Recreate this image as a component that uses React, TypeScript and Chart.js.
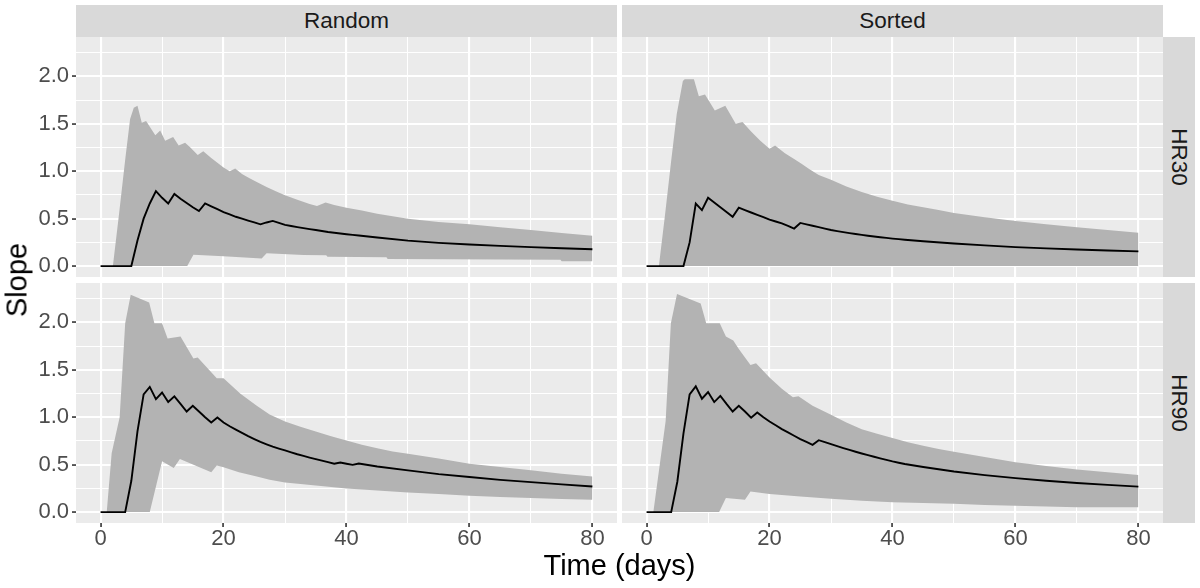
import React, { useEffect, useRef } from "react";
import { Chart, registerables } from "chart.js";

Chart.register(...registerables);

const FONT = "'Liberation Sans', Arial, Helvetica, sans-serif";

// ---- shared axis definitions ----
const COLUMNS = ["Random", "Sorted"];
const ROWS = ["HR30", "HR90"];
const X_TICKS = [0, 10, 20, 30, 40, 50, 60, 70, 80];
const X_MAJOR = [0, 20, 40, 60, 80];
const X_LABELS = ["0", "20", "40", "60", "80"];
const Y_TICKS = [0, 0.25, 0.5, 0.75, 1, 1.25, 1.5, 1.75, 2, 2.25];
const Y_MAJOR = [0, 0.5, 1, 1.5, 2];
const Y_LABELS = ["0.0", "0.5", "1.0", "1.5", "2.0"];

// ---- mean line: day grid ----
const LINE_DAYS = [
  0, 1, 2, 3, 4, 5, 6, 7, 8, 9, 10, 11, 12, 13, 14, 15, 16, 17, 18, 19, 20,
  21, 22, 23, 24, 25, 26, 27, 28, 29, 30, 31, 32, 33, 34, 35, 36, 37, 38, 39,
  40, 41, 42, 45, 50, 55, 60, 65, 70, 75, 80,
];

// ---- Random / HR30 ----
const RANDOM_HR30_MEAN = [
  0, 0, 0, 0, 0, 0, 0.27, 0.5, 0.66, 0.79, 0.72, 0.66, 0.76, 0.71, 0.665, 0.62,
  0.58, 0.66, 0.63, 0.6, 0.57, 0.545, 0.52, 0.5, 0.48, 0.46, 0.44, 0.46, 0.476,
  0.455, 0.435, 0.423, 0.411, 0.4, 0.39, 0.38, 0.37, 0.36, 0.352, 0.344, 0.336,
  0.329, 0.322, 0.302, 0.268, 0.245, 0.228, 0.213, 0.2, 0.188, 0.178,
];
const RANDOM_HR30_UPPER_DAYS = [
  0, 2, 3, 4, 4.8, 5.4, 6, 6.7, 7.4, 8.9, 9.7, 10.5, 11.8, 12.7, 13.75, 14.6,
  15.8, 16.7, 18, 19, 20, 21, 21.9, 23, 24, 25.4, 27, 28.5, 30, 32, 34, 35.2,
  36.6, 38, 40, 42.5, 45, 47.5, 50, 55, 60, 65, 70, 75, 80,
];
const RANDOM_HR30_UPPER = [
  0, 0, 0.55, 1.12, 1.55, 1.67, 1.69, 1.51, 1.53, 1.38, 1.43, 1.32, 1.36, 1.27,
  1.3, 1.25, 1.17, 1.21, 1.14, 1.09, 1.04, 1.0, 1.03, 0.97, 0.935, 0.886,
  0.835, 0.79, 0.746, 0.7, 0.655, 0.634, 0.67, 0.645, 0.616, 0.585, 0.553,
  0.525, 0.5, 0.465, 0.44, 0.41, 0.38, 0.35, 0.32,
];
const RANDOM_HR30_LOWER_DAYS = [
  0, 14.1, 15.1, 20, 26.2, 27, 33, 36.7, 36.9, 46.5, 46.7, 74.8, 75, 80,
];
const RANDOM_HR30_LOWER = [
  0, 0, 0.12, 0.105, 0.08, 0.135, 0.118, 0.115, 0.098, 0.092, 0.074, 0.068,
  0.05, 0.05,
];

// ---- Sorted / HR30 ----
const SORTED_HR30_MEAN = [
  0, 0, 0, 0, 0, 0, 0, 0.25, 0.66, 0.59, 0.72, 0.67, 0.62, 0.57, 0.52, 0.616,
  0.59, 0.565, 0.54, 0.515, 0.49, 0.47, 0.45, 0.425, 0.396, 0.455, 0.44, 0.425,
  0.41, 0.395, 0.38, 0.369, 0.358, 0.348, 0.338, 0.329, 0.32, 0.312, 0.304,
  0.297, 0.29, 0.284, 0.278, 0.262, 0.238, 0.218, 0.2, 0.187, 0.175, 0.164,
  0.155,
];
const SORTED_HR30_UPPER_DAYS = [
  0, 2, 3, 4, 4.9, 5.9, 6.2, 7.7, 8.5, 9.5, 11.1, 12.8, 14.5, 15.6, 17, 18.5,
  20, 20.9, 22.5, 24, 25.2, 26.5, 28, 30, 32.5, 35, 37.5, 40, 42.5, 45, 47.5,
  50, 55, 60, 65, 70, 75, 80,
];
const SORTED_HR30_UPPER = [
  0, 0, 0.54, 1.11, 1.6, 1.95, 1.97, 1.97, 1.79, 1.81, 1.64, 1.69, 1.5, 1.52,
  1.42, 1.32, 1.236, 1.27, 1.19, 1.13, 1.08, 1.02, 0.96, 0.91, 0.84, 0.78,
  0.73, 0.69, 0.65, 0.62, 0.59, 0.56, 0.515, 0.475, 0.44, 0.41, 0.38, 0.352,
];
const SORTED_HR30_LOWER_DAYS = [0, 80];
const SORTED_HR30_LOWER = [0, 0];

// ---- Random / HR90 ----
const RANDOM_HR90_MEAN = [
  0, 0, 0, 0, 0, 0.33, 0.85, 1.24, 1.32, 1.19, 1.26, 1.16, 1.22, 1.14, 1.06,
  1.12, 1.06, 1.0, 0.945, 0.997, 0.944, 0.905, 0.87, 0.835, 0.8, 0.77, 0.74,
  0.715, 0.69, 0.67, 0.65, 0.63, 0.61, 0.592, 0.575, 0.558, 0.542, 0.526, 0.51,
  0.523, 0.51, 0.498, 0.512, 0.48, 0.44, 0.4, 0.37, 0.34, 0.316, 0.292, 0.27,
];
const RANDOM_HR90_UPPER_DAYS = [
  0, 1, 1.8, 3.1, 4, 4.9, 7.9, 8.75, 10, 10.9, 13, 15.1, 15.8, 18.9, 20, 22.7,
  25.4, 27.5, 30, 32.5, 35, 37.5, 40, 42.5, 45, 47.5, 50, 55, 60, 65, 70, 75,
  80,
];
const RANDOM_HR90_UPPER = [
  0, 0, 0.62, 1.0, 1.99, 2.29, 2.21, 1.99, 1.99, 1.83, 1.85, 1.62, 1.63, 1.41,
  1.41, 1.25, 1.12, 1.03, 0.954, 0.9, 0.85, 0.8, 0.754, 0.71, 0.674, 0.64,
  0.614, 0.565, 0.51, 0.475, 0.44, 0.405, 0.375,
];
const RANDOM_HR90_LOWER_DAYS = [
  0, 8, 10, 11.9, 12.9, 18, 18.9, 20, 22.5, 25.4, 27.5, 30, 35, 40, 45, 50, 55,
  60, 65, 70, 75, 80,
];
const RANDOM_HR90_LOWER = [
  0, 0, 0.535, 0.465, 0.56, 0.42, 0.49, 0.474, 0.42, 0.375, 0.34, 0.312, 0.28,
  0.25, 0.227, 0.207, 0.19, 0.172, 0.16, 0.148, 0.138, 0.13,
];

// ---- Sorted / HR90 ----
const SORTED_HR90_MEAN = [
  0, 0, 0, 0, 0, 0.32, 0.83, 1.24, 1.325, 1.195, 1.265, 1.16, 1.225, 1.14,
  1.06, 1.12, 1.06, 0.996, 1.05, 1.0, 0.955, 0.915, 0.875, 0.84, 0.805, 0.77,
  0.74, 0.709, 0.758, 0.737, 0.716, 0.695, 0.675, 0.655, 0.636, 0.618, 0.6,
  0.583, 0.566, 0.55, 0.534, 0.52, 0.507, 0.475, 0.428, 0.39, 0.358, 0.33,
  0.307, 0.287, 0.268,
];
const SORTED_HR90_UPPER_DAYS = [
  0, 1.1, 3.1, 3.95, 4.95, 8.8, 9.7, 11.9, 12.9, 14.1, 15, 16.9, 17.8, 20, 22,
  23.8, 24.7, 27, 30, 32.5, 35, 37.5, 40, 42.5, 45, 47.5, 50, 55, 60, 65, 70,
  75, 80,
];
const SORTED_HR90_UPPER = [
  0, 0, 0.96, 1.99, 2.3, 2.2, 1.99, 1.99, 1.85, 1.81, 1.72, 1.55, 1.57, 1.42,
  1.3, 1.21, 1.22, 1.12, 1.025, 0.945, 0.874, 0.825, 0.78, 0.735, 0.7, 0.665,
  0.635, 0.58, 0.525, 0.485, 0.45, 0.42, 0.392,
];
const SORTED_HR90_LOWER_DAYS = [
  0, 11.8, 12.9, 16, 16.9, 20, 25, 30, 35, 40, 45, 50, 55, 60, 65, 70, 80,
];
const SORTED_HR90_LOWER = [
  0, 0, 0.148, 0.13, 0.218, 0.19, 0.165, 0.14, 0.12, 0.105, 0.095, 0.088,
  0.075, 0.067, 0.06, 0.05, 0.05,
];

// ---- layout (pixels) ----
const PANEL_W = 541;
const PANEL_H = 240;
const COL_LEFT = [76, 622];
const ROW_TOP = [37, 283];
const Y_AXIS_W = 76;
const X_AXIS_H = 30;

const near = (arr: number[], v: number) => arr.findIndex((m) => Math.abs(m - v) < 1e-9);

const panelBg = {
  id: "panelBg",
  beforeDraw(chart: any) {
    const { ctx, chartArea: a } = chart;
    ctx.save();
    ctx.fillStyle = "#EBEBEB";
    ctx.fillRect(a.left, a.top, a.right - a.left, a.bottom - a.top);
    ctx.restore();
  },
};

const pts = (xs: number[], ys: number[]) => xs.map((x, i) => ({ x, y: ys[i] }));

type PanelProps = {
  col: number;
  row: number;
  mean: number[];
  upX: number[];
  upY: number[];
  loX: number[];
  loY: number[];
};

function Panel({ col, row, mean, upX, upY, loX, loY }: PanelProps) {
  const ref = useRef<HTMLCanvasElement>(null);
  const showY = col === 0;
  const showX = row === 1;
  const left = showY ? COL_LEFT[col] - Y_AXIS_W : COL_LEFT[col];
  const top = ROW_TOP[row];
  const width = PANEL_W + (showY ? Y_AXIS_W : 0);
  const height = PANEL_H + (showX ? X_AXIS_H : 0);

  useEffect(() => {
    const tickFont = { family: FONT, size: 22 };
    const chart = new Chart(ref.current as HTMLCanvasElement, {
      type: "line",
      data: {
        datasets: [
          {
            data: pts(loX, loY),
            borderWidth: 0,
            borderColor: "rgba(0,0,0,0)",
            pointRadius: 0,
            fill: false,
            order: 2,
          },
          {
            data: pts(upX, upY),
            borderWidth: 0,
            borderColor: "rgba(0,0,0,0)",
            backgroundColor: "#B3B3B3",
            pointRadius: 0,
            fill: "-1",
            order: 1,
          },
          {
            data: pts(LINE_DAYS, mean),
            borderWidth: 1.9,
            borderColor: "#000000",
            pointRadius: 0,
            fill: false,
            order: 0,
          },
        ],
      },
      options: {
        animation: false,
        responsive: false,
        maintainAspectRatio: false,
        events: [],
        layout: { padding: 0 },
        plugins: { legend: { display: false }, tooltip: { enabled: false } },
        scales: {
          x: {
            type: "linear",
            min: -4,
            max: 84,
            afterBuildTicks: (s: any) => {
              s.ticks = X_TICKS.map((v) => ({ value: v }));
            },
            afterFit: (s: any) => {
              s.height = showX ? X_AXIS_H : 0;
              s.paddingLeft = 0;
              s.paddingRight = 0;
              s.paddingTop = 0;
              s.paddingBottom = 0;
            },
            border: { display: false },
            grid: {
              color: "#FFFFFF",
              lineWidth: (c: any) => (c.tick && near(X_MAJOR, c.tick.value) >= 0 ? 2.1 : 1),
              drawTicks: showX,
              tickLength: 4,
              tickWidth: 1.6,
              tickColor: (c: any) =>
                c.tick && near(X_MAJOR, c.tick.value) >= 0 ? "#333333" : "rgba(0,0,0,0)",
            },
            ticks: {
              display: showX,
              autoSkip: false,
              maxRotation: 0,
              padding: 1,
              color: "#4D4D4D",
              font: { family: FONT, size: 22, lineHeight: 1 },
              callback: (v: any) => {
                const k = near(X_MAJOR, Number(v));
                return k >= 0 ? X_LABELS[k] : "";
              },
            },
          },
          y: {
            type: "linear",
            min: -0.115,
            max: 2.415,
            afterBuildTicks: (s: any) => {
              s.ticks = Y_TICKS.map((v) => ({ value: v }));
            },
            afterFit: (s: any) => {
              s.width = showY ? Y_AXIS_W : 0;
              s.paddingLeft = 0;
              s.paddingRight = 0;
              s.paddingTop = 0;
              s.paddingBottom = 0;
            },
            border: { display: false },
            grid: {
              color: "#FFFFFF",
              lineWidth: (c: any) => (c.tick && near(Y_MAJOR, c.tick.value) >= 0 ? 2.1 : 1),
              drawTicks: showY,
              tickLength: 4,
              tickWidth: 1.6,
              tickColor: (c: any) =>
                c.tick && near(Y_MAJOR, c.tick.value) >= 0 ? "#333333" : "rgba(0,0,0,0)",
            },
            ticks: {
              display: showY,
              autoSkip: false,
              padding: 3,
              color: "#4D4D4D",
              font: tickFont,
              callback: (v: any) => {
                const k = near(Y_MAJOR, Number(v));
                return k >= 0 ? Y_LABELS[k] : "";
              },
            },
          },
        },
      } as any,
      plugins: [panelBg],
    });
    return () => chart.destroy();
  }, []);

  return (
    <canvas
      ref={ref}
      width={width}
      height={height}
      style={{ position: "absolute", left, top, width, height, display: "block" }}
    />
  );
}

function Text({
  text,
  cx,
  cy,
  size,
  color,
  rotate = 0,
}: {
  text: string;
  cx: number;
  cy: number;
  size: number;
  color: string;
  rotate?: number;
}) {
  return (
    <div
      style={{
        position: "absolute",
        left: cx,
        top: cy,
        transform: `translate(-50%, -50%) rotate(${rotate}deg)`,
        fontFamily: FONT,
        fontSize: size,
        lineHeight: 1,
        color,
        whiteSpace: "nowrap",
      }}
    >
      {text}
    </div>
  );
}

export default function App() {
  const panels: PanelProps[] = [
    { col: 0, row: 0, mean: RANDOM_HR30_MEAN, upX: RANDOM_HR30_UPPER_DAYS, upY: RANDOM_HR30_UPPER, loX: RANDOM_HR30_LOWER_DAYS, loY: RANDOM_HR30_LOWER },
    { col: 1, row: 0, mean: SORTED_HR30_MEAN, upX: SORTED_HR30_UPPER_DAYS, upY: SORTED_HR30_UPPER, loX: SORTED_HR30_LOWER_DAYS, loY: SORTED_HR30_LOWER },
    { col: 0, row: 1, mean: RANDOM_HR90_MEAN, upX: RANDOM_HR90_UPPER_DAYS, upY: RANDOM_HR90_UPPER, loX: RANDOM_HR90_LOWER_DAYS, loY: RANDOM_HR90_LOWER },
    { col: 1, row: 1, mean: SORTED_HR90_MEAN, upX: SORTED_HR90_UPPER_DAYS, upY: SORTED_HR90_UPPER, loX: SORTED_HR90_LOWER_DAYS, loY: SORTED_HR90_LOWER },
  ];
  const stripTop = 5;
  const stripH = ROW_TOP[0] - stripTop;
  const rightStripLeft = COL_LEFT[1] + PANEL_W;
  const rightStripW = 32;

  return (
    <div
      style={{
        position: "absolute",
        left: 0,
        top: 0,
        width: 1200,
        height: 588,
        background: "#FFFFFF",
        overflow: "hidden",
      }}
    >
      {COLUMNS.map((name, i) => (
        <div
          key={name}
          style={{
            position: "absolute",
            left: COL_LEFT[i],
            top: stripTop,
            width: PANEL_W,
            height: stripH,
            background: "#D9D9D9",
          }}
        />
      ))}
      {ROWS.map((name, i) => (
        <div
          key={name}
          style={{
            position: "absolute",
            left: rightStripLeft,
            top: ROW_TOP[i],
            width: rightStripW,
            height: PANEL_H,
            background: "#D9D9D9",
          }}
        />
      ))}
      {panels.map((p) => (
        <Panel key={`${p.col}-${p.row}`} {...p} />
      ))}
      {COLUMNS.map((name, i) => (
        <Text key={name} text={name} cx={COL_LEFT[i] + PANEL_W / 2} cy={stripTop + stripH / 2} size={22.5} color="#1A1A1A" />
      ))}
      {ROWS.map((name, i) => (
        <Text key={name} text={name} cx={rightStripLeft + rightStripW / 2} cy={ROW_TOP[i] + PANEL_H / 2} size={22.5} color="#1A1A1A" rotate={90} />
      ))}
      <Text text="Slope" cx={17} cy={(ROW_TOP[0] + ROW_TOP[1] + PANEL_H) / 2} size={29} color="#000000" rotate={-90} />
      <Text text="Time (days)" cx={(COL_LEFT[0] + COL_LEFT[1] + PANEL_W) / 2} cy={565} size={29} color="#000000" />
    </div>
  );
}
